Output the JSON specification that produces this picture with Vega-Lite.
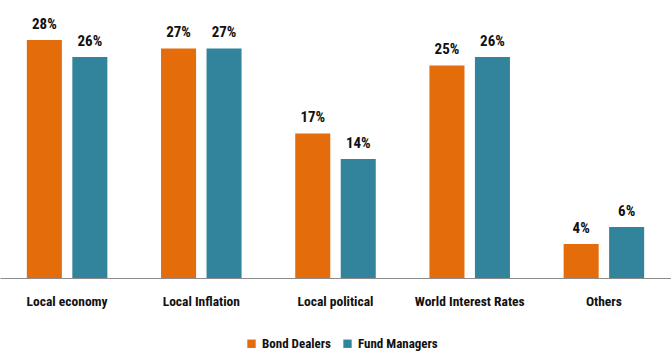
{
  "$schema": "https://vega.github.io/schema/vega-lite/v6.json",
  "width": 671,
  "height": 278,
  "padding": {"left": 0, "right": 0, "top": 0, "bottom": 74},
  "autosize": "none",
  "background": "white",
  "config": {
    "view": {"stroke": null},
    "font": "Roboto Condensed, Lato, sans-serif"
  },
  "data": {
    "values": [
      {"category": "Local economy", "series": "Bond Dealers", "value": 0.28},
      {"category": "Local economy", "series": "Fund Managers", "value": 0.26},
      {"category": "Local Inflation", "series": "Bond Dealers", "value": 0.27},
      {"category": "Local Inflation", "series": "Fund Managers", "value": 0.27},
      {"category": "Local political", "series": "Bond Dealers", "value": 0.17},
      {"category": "Local political", "series": "Fund Managers", "value": 0.14},
      {"category": "World Interest Rates", "series": "Bond Dealers", "value": 0.25},
      {"category": "World Interest Rates", "series": "Fund Managers", "value": 0.26},
      {"category": "Others", "series": "Bond Dealers", "value": 0.04},
      {"category": "Others", "series": "Fund Managers", "value": 0.06}
    ]
  },
  "encoding": {
    "x": {
      "field": "category", "type": "nominal", "sort": null,
      "scale": {"paddingInner": 0.4, "paddingOuter": 0.2},
      "axis": {
        "title": null, "labelAngle": 0, "ticks": false,
        "domainColor": "#8c8c8c", "domainWidth": 1.2,
        "labelFontSize": 13.5, "labelFontWeight": "bold", "labelColor": "#111111",
        "labelPadding": 16
      }
    },
    "xOffset": {"field": "series", "type": "nominal", "scale": {"paddingInner": 0.23}},
    "y": {
      "field": "value", "type": "quantitative",
      "scale": {"domain": [0, 0.327], "nice": false},
      "axis": null
    },
    "color": {
      "field": "series", "type": "nominal",
      "scale": {"domain": ["Bond Dealers", "Fund Managers"], "range": ["#E46C0A", "#31849B"]},
      "legend": {
        "title": null, "orient": "none", "direction": "horizontal",
        "legendX": 245, "legendY": 337,
        "symbolType": "square", "symbolSize": 70, "symbolStrokeWidth": 0,
        "labelFontSize": 13, "labelFontWeight": "bold", "labelColor": "#111111",
        "columnPadding": 10, "labelOffset": 4
      }
    }
  },
  "layer": [
    {"mark": {"type": "bar"}},
    {
      "mark": {"type": "text", "dy": -16, "fontSize": 15, "fontWeight": "bold", "color": "#111111"},
      "encoding": {
        "text": {"field": "value", "type": "quantitative", "format": ".0%"},
        "color": {"value": "#111111"}
      }
    }
  ]
}
